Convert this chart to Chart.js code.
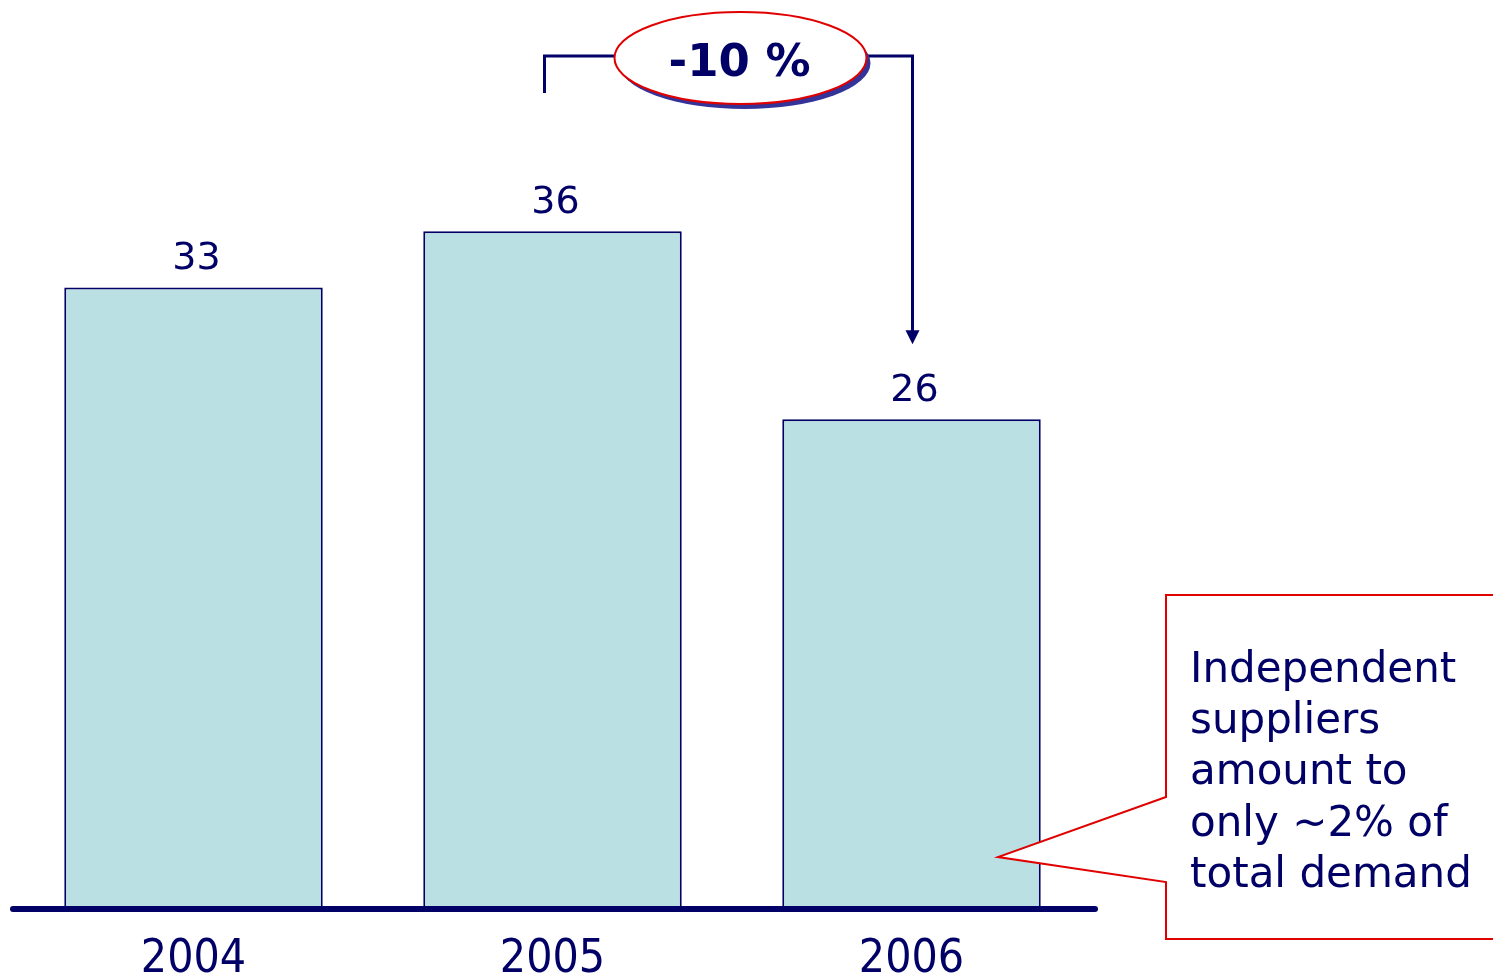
<!DOCTYPE html>
<html>
<head>
<meta charset="utf-8">
<script src="https://cdn.jsdelivr.net/npm/chart.js@4.4.1/dist/chart.umd.min.js"></script>
<style>
  html, body { margin: 0; padding: 0; background: #ffffff; }
  #wrap { width: 1493px; height: 975px; }
</style>
</head>
<body>
<div id="wrap"><canvas id="dataChart" width="1493" height="975"></canvas></div>
<script>
// Data
const years = ["2004", "2005", "2006"];
const volumes = [33, 36, 26];
const changeLabel = "-10 %";
const noteLines = ["Independent", "suppliers", "amount to", "only ~2% of", "total demand"];

const navy = "#000066";
const red = "#e00000";

// value labels above each bar
const valueLabels = {
    id: "valueLabels",
    afterDatasetsDraw(chart) {
        const ctx = chart.ctx;
        const meta = chart.getDatasetMeta(0);
        ctx.save();
        ctx.fillStyle = navy;
        ctx.font = "38px 'DejaVu Sans'";
        ctx.textAlign = "center";
        ctx.textBaseline = "middle";
        meta.data.forEach((bar, i) => {
            ctx.fillText(String(volumes[i]), bar.x + 3, bar.y - 28);
        });
        ctx.restore();
    }
};

// thick base line
const baseLine = {
    id: "baseLine",
    afterDatasetsDraw(chart) {
        const ctx = chart.ctx;
        const y = chart.scales.y.getPixelForValue(0);
        ctx.save();
        ctx.strokeStyle = navy;
        ctx.lineWidth = 6;
        ctx.lineCap = "round";
        ctx.beginPath();
        ctx.moveTo(chart.chartArea.left - 1, y + 1);
        ctx.lineTo(chart.chartArea.right + 4, y + 1);
        ctx.stroke();
        ctx.restore();
    }
};

// "-10 %" bracket + callout box
const annotations = {
    id: "annotations",
    afterDraw(chart) {
        const ctx = chart.ctx;
        const xs = chart.scales.x;
        const ys = chart.scales.y;
        const x1 = xs.getPixelForValue(1) - 8;
        const x2 = xs.getPixelForValue(2) + 1;
        const yTop = 56;
        const tipY = ys.getPixelForValue(volumes[2]) - 75;
        const cx = (x1 + x2) / 2 + 12;
        const cy = 58;
        const rx = 126, ry = 46;

        ctx.save();
        ctx.strokeStyle = navy;
        ctx.lineWidth = 3;
        ctx.beginPath();
        ctx.moveTo(x1, 93);
        ctx.lineTo(x1, yTop);
        ctx.lineTo(cx - rx, yTop);
        ctx.moveTo(cx + rx, yTop);
        ctx.lineTo(x2, yTop);
        ctx.lineTo(x2, tipY - 12);
        ctx.stroke();
        ctx.fillStyle = navy;
        ctx.beginPath();
        ctx.moveTo(x2 - 7, tipY - 14);
        ctx.lineTo(x2 + 7, tipY - 14);
        ctx.lineTo(x2, tipY);
        ctx.closePath();
        ctx.fill();

        // shadow ellipse
        ctx.fillStyle = "#333399";
        ctx.beginPath();
        ctx.ellipse(cx + 4, cy + 5, rx, ry, 0, 0, Math.PI * 2);
        ctx.fill();
        // ellipse
        ctx.fillStyle = "#ffffff";
        ctx.strokeStyle = red;
        ctx.lineWidth = 2;
        ctx.beginPath();
        ctx.ellipse(cx, cy, rx, ry, 0, 0, Math.PI * 2);
        ctx.fill();
        ctx.stroke();

        ctx.fillStyle = navy;
        ctx.font = "bold 45px 'DejaVu Sans'";
        ctx.textAlign = "center";
        ctx.textBaseline = "middle";
        ctx.fillText(changeLabel, cx - 1, cy + 6);

        // callout box pointing at 2006 bar
        const bx = 1166, by = 595, bb = 939;
        const tipX = 998, tipYc = 857;
        ctx.strokeStyle = red;
        ctx.lineWidth = 2;
        ctx.fillStyle = "#ffffff";
        ctx.beginPath();
        ctx.moveTo(chart.width + 5, by);
        ctx.lineTo(bx, by);
        ctx.lineTo(bx, 797);
        ctx.lineTo(tipX, tipYc);
        ctx.lineTo(bx, 882);
        ctx.lineTo(bx, bb);
        ctx.lineTo(chart.width + 5, bb);
        ctx.fill();
        ctx.stroke();

        ctx.fillStyle = navy;
        ctx.font = "42px 'DejaVu Sans'";
        ctx.textAlign = "left";
        ctx.textBaseline = "alphabetic";
        noteLines.forEach((line, i) => {
            ctx.fillText(line, 1190, 682 + i * 51.2);
        });
        ctx.restore();
    }
};

const ctx = document.getElementById("dataChart").getContext("2d");
new Chart(ctx, {
    type: "bar",
    data: {
        labels: years,
        datasets: [
            {
                data: volumes,
                backgroundColor: "#bbe0e3",
                borderColor: navy,
                borderWidth: 2,
                borderSkipped: "bottom",
                categoryPercentage: 1,
                barPercentage: 0.72,
            },
        ],
    },
    options: {
        responsive: false,
        animation: false,
        devicePixelRatio: 1,
        layout: {
            padding: { left: 14, right: 402, top: 62, bottom: 0 },
        },
        plugins: {
            legend: { display: false },
            tooltip: { enabled: false },
        },
        scales: {
            x: {
                grid: { display: false, drawTicks: false },
                border: { display: false },
                ticks: {
                    color: navy,
                    padding: 29,
                    font: { family: "'DejaVu Sans Condensed'", size: 46, lineHeight: 1 },
                },
                afterFit(axis) {
                    axis.height = 67;
                },
            },
            y: {
                display: false,
                min: 0,
                max: 45,
            },
        },
    },
    plugins: [valueLabels, baseLine, annotations],
});
</script>
</body>
</html>
